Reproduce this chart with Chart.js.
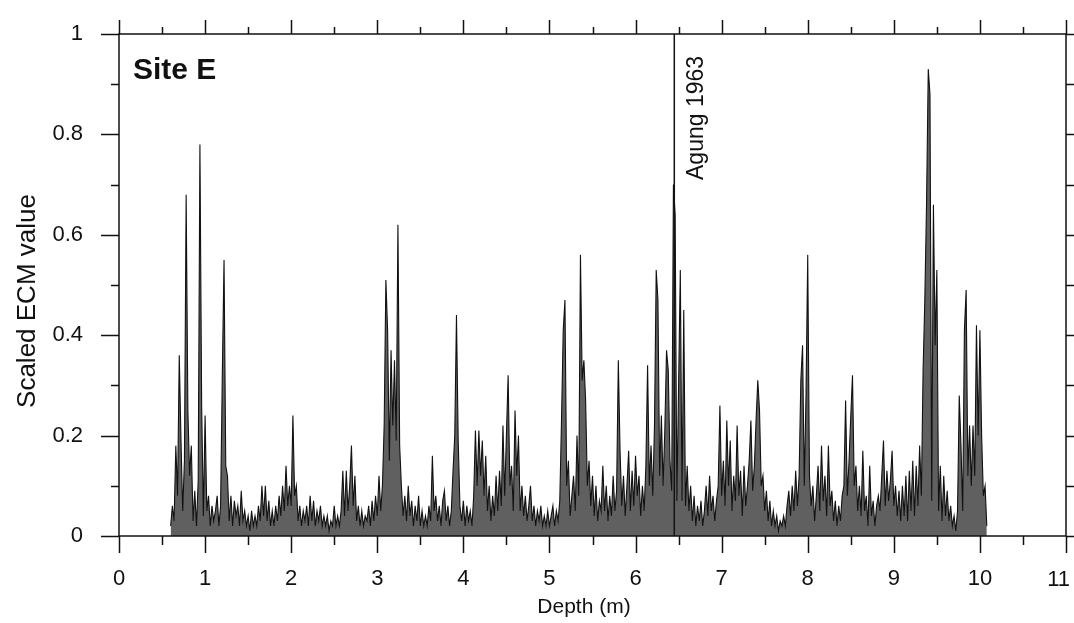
<!DOCTYPE html>
<html>
<head>
<meta charset="utf-8">
<script src="https://cdn.jsdelivr.net/npm/chart.js@4.4.1/dist/chart.umd.min.js"></script>
<style>
  html, body { margin: 0; padding: 0; background: #fff; }
  #wrap { width: 1074px; height: 623px; }
</style>
</head>
<body>
<div id="wrap"><canvas id="ecmChart" width="1074" height="623"></canvas></div>
<script>
// depth of each ECM sample (m)
let depth = [
  0.60,0.62,0.64,0.66,0.68,0.70,0.72,0.74,0.76,0.78,
  0.80,0.82,0.84,0.86,0.88,0.90,0.92,0.94,0.96,0.98,
  1.00,1.02,1.04,1.06,1.08,1.10,1.12,1.14,1.16,1.18,
  1.20,1.22,1.24,1.26,1.28,1.30,1.32,1.34,1.36,1.38,
  1.40,1.42,1.44,1.46,1.48,1.50,1.52,1.54,1.56,1.58,
  1.60,1.62,1.64,1.66,1.68,1.70,1.72,1.74,1.76,1.78,
  1.80,1.82,1.84,1.86,1.88,1.90,1.92,1.94,1.96,1.98,
  2.00,2.02,2.04,2.06,2.08,2.10,2.12,2.14,2.16,2.18,
  2.20,2.22,2.24,2.26,2.28,2.30,2.32,2.34,2.36,2.38,
  2.40,2.42,2.44,2.46,2.48,2.50,2.52,2.54,2.56,2.58,
  2.60,2.62,2.64,2.66,2.68,2.70,2.72,2.74,2.76,2.78,
  2.80,2.82,2.84,2.86,2.88,2.90,2.92,2.94,2.96,2.98,
  3.00,3.02,3.04,3.06,3.08,3.10,3.12,3.14,3.16,3.18,
  3.20,3.22,3.24,3.26,3.28,3.30,3.32,3.34,3.36,3.38,
  3.40,3.42,3.44,3.46,3.48,3.50,3.52,3.54,3.56,3.58,
  3.60,3.62,3.64,3.66,3.68,3.70,3.72,3.74,3.76,3.78,
  3.80,3.82,3.84,3.86,3.88,3.90,3.92,3.94,3.96,3.98,
  4.00,4.02,4.04,4.06,4.08,4.10,4.12,4.14,4.16,4.18,
  4.20,4.22,4.24,4.26,4.28,4.30,4.32,4.34,4.36,4.38,
  4.40,4.42,4.44,4.46,4.48,4.50,4.52,4.54,4.56,4.58,
  4.60,4.62,4.64,4.66,4.68,4.70,4.72,4.74,4.76,4.78,
  4.80,4.82,4.84,4.86,4.88,4.90,4.92,4.94,4.96,4.98,
  5.00,5.02,5.04,5.06,5.08,5.10,5.12,5.14,5.16,5.18,
  5.20,5.22,5.24,5.26,5.28,5.30,5.32,5.34,5.36,5.38,
  5.40,5.42,5.44,5.46,5.48,5.50,5.52,5.54,5.56,5.58,
  5.60,5.62,5.64,5.66,5.68,5.70,5.72,5.74,5.76,5.78,
  5.80,5.82,5.84,5.86,5.88,5.90,5.92,5.94,5.96,5.98,
  6.00,6.02,6.04,6.06,6.08,6.10,6.12,6.14,6.16,6.18,
  6.20,6.22,6.24,6.26,6.28,6.30,6.32,6.34,6.36,6.38,
  6.40,6.42,6.44,6.46,6.48,6.50,6.52,6.54,6.56,6.58,
  6.60,6.62,6.64,6.66,6.68,6.70,6.72,6.74,6.76,6.78,
  6.80,6.82,6.84,6.86,6.88,6.90,6.92,6.94,6.96,6.98,
  7.00,7.02,7.04,7.06,7.08,7.10,7.12,7.14,7.16,7.18,
  7.20,7.22,7.24,7.26,7.28,7.30,7.32,7.34,7.36,7.38,
  7.40,7.42,7.44,7.46,7.48,7.50,7.52,7.54,7.56,7.58,
  7.60,7.62,7.64,7.66,7.68,7.70,7.72,7.74,7.76,7.78,
  7.80,7.82,7.84,7.86,7.88,7.90,7.92,7.94,7.96,7.98,
  8.00,8.02,8.04,8.06,8.08,8.10,8.12,8.14,8.16,8.18,
  8.20,8.22,8.24,8.26,8.28,8.30,8.32,8.34,8.36,8.38,
  8.40,8.42,8.44,8.46,8.48,8.50,8.52,8.54,8.56,8.58,
  8.60,8.62,8.64,8.66,8.68,8.70,8.72,8.74,8.76,8.78,
  8.80,8.82,8.84,8.86,8.88,8.90,8.92,8.94,8.96,8.98,
  9.00,9.02,9.04,9.06,9.08,9.10,9.12,9.14,9.16,9.18,
  9.20,9.22,9.24,9.26,9.28,9.30,9.32,9.34,9.36,9.38,
  9.40,9.42,9.44,9.46,9.48,9.50,9.52,9.54,9.56,9.58,
  9.60,9.62,9.64,9.66,9.68,9.70,9.72,9.74,9.76,9.78,
  9.80,9.82,9.84,9.86,9.88,9.90,9.92,9.94,9.96,9.98,
  10.00,10.02,10.04,10.06,10.08
]

// scaled ECM value
let ecm = [
  0.02,0.06,0.03,0.18,0.08,0.36,0.19,0.05,0.15,0.68,
  0.25,0.12,0.18,0.03,0.09,0.02,0.11,0.78,0.26,0.04,
  0.24,0.05,0.08,0.02,0.06,0.03,0.05,0.08,0.02,0.06,
  0.32,0.55,0.14,0.12,0.03,0.08,0.02,0.07,0.04,0.06,
  0.02,0.09,0.03,0.05,0.02,0.04,0.01,0.05,0.02,0.04,
  0.02,0.06,0.03,0.10,0.04,0.10,0.03,0.07,0.02,0.05,
  0.02,0.06,0.03,0.08,0.04,0.10,0.05,0.14,0.06,0.10,
  0.06,0.24,0.08,0.10,0.03,0.06,0.02,0.05,0.03,0.06,
  0.02,0.08,0.03,0.07,0.02,0.05,0.03,0.06,0.02,0.04,
  0.02,0.04,0.01,0.03,0.02,0.06,0.02,0.04,0.02,0.05,
  0.13,0.04,0.13,0.05,0.10,0.18,0.06,0.12,0.03,0.06,
  0.02,0.05,0.02,0.04,0.03,0.06,0.02,0.07,0.03,0.08,
  0.04,0.12,0.05,0.10,0.22,0.51,0.41,0.15,0.37,0.22,
  0.35,0.19,0.62,0.18,0.10,0.04,0.08,0.03,0.10,0.04,
  0.07,0.02,0.06,0.03,0.08,0.02,0.05,0.02,0.04,0.02,
  0.06,0.03,0.16,0.05,0.08,0.03,0.06,0.02,0.07,0.09,
  0.03,0.06,0.02,0.05,0.13,0.20,0.44,0.19,0.06,0.03,
  0.07,0.02,0.06,0.03,0.05,0.02,0.08,0.21,0.10,0.21,
  0.12,0.19,0.08,0.16,0.05,0.10,0.03,0.08,0.04,0.12,
  0.05,0.13,0.06,0.22,0.08,0.20,0.32,0.10,0.14,0.05,
  0.25,0.12,0.20,0.05,0.10,0.04,0.08,0.03,0.06,0.10,
  0.03,0.06,0.02,0.05,0.03,0.06,0.02,0.04,0.02,0.05,
  0.02,0.04,0.06,0.02,0.05,0.03,0.07,0.23,0.41,0.47,
  0.10,0.15,0.04,0.08,0.12,0.05,0.20,0.08,0.56,0.31,
  0.35,0.27,0.10,0.15,0.06,0.12,0.04,0.10,0.03,0.07,
  0.05,0.14,0.05,0.10,0.03,0.08,0.04,0.12,0.05,0.09,
  0.35,0.17,0.06,0.12,0.04,0.10,0.17,0.05,0.13,0.06,
  0.16,0.08,0.12,0.04,0.10,0.05,0.14,0.34,0.10,0.18,
  0.08,0.22,0.53,0.47,0.12,0.24,0.10,0.21,0.37,0.33,
  0.15,0.09,0.70,0.64,0.07,0.30,0.53,0.07,0.45,0.06,
  0.14,0.05,0.10,0.03,0.08,0.02,0.06,0.03,0.07,0.02,
  0.05,0.10,0.04,0.12,0.05,0.08,0.03,0.07,0.10,0.26,
  0.08,0.15,0.06,0.23,0.10,0.19,0.05,0.12,0.07,0.22,
  0.08,0.13,0.04,0.14,0.06,0.10,0.15,0.23,0.09,0.14,
  0.23,0.31,0.25,0.10,0.12,0.05,0.09,0.03,0.07,0.02,
  0.05,0.02,0.04,0.01,0.03,0.02,0.04,0.02,0.06,0.09,
  0.04,0.10,0.05,0.13,0.06,0.12,0.31,0.38,0.10,0.28,
  0.56,0.12,0.06,0.10,0.03,0.08,0.14,0.05,0.18,0.07,
  0.12,0.04,0.18,0.06,0.09,0.03,0.07,0.02,0.06,0.03,
  0.08,0.10,0.27,0.08,0.15,0.24,0.32,0.10,0.14,0.05,
  0.10,0.04,0.17,0.05,0.08,0.02,0.14,0.04,0.07,0.02,
  0.06,0.08,0.05,0.12,0.19,0.06,0.13,0.07,0.11,0.17,
  0.06,0.10,0.04,0.09,0.03,0.10,0.04,0.12,0.03,0.13,
  0.05,0.15,0.04,0.14,0.06,0.18,0.08,0.33,0.47,0.66,
  0.93,0.88,0.07,0.66,0.38,0.53,0.05,0.14,0.03,0.12,
  0.04,0.09,0.03,0.06,0.02,0.04,0.01,0.05,0.28,0.18,
  0.05,0.41,0.49,0.12,0.22,0.10,0.22,0.12,0.42,0.20,
  0.41,0.20,0.08,0.10,0.02
]

let agungDepth = 6.45
let agungLabel = "Agung 1963"
let siteLabel = "Site E"
let xTitle = "Depth (m)"
let yTitle = "Scaled ECM value"

let fontFam = "'Liberation Sans', Arial, Helvetica, sans-serif"
let ink = '#111'

let points = depth.map((d, i) => ({ x: d, y: ecm[i] }))

// no extra room for label overflow: the plot box must sit where the figure has it
function fixBox(s, w, h) {
  if (w !== null) s.width = w
  if (h !== null) s.height = h
  s.paddingLeft = 0
  s.paddingRight = 0
  s.paddingTop = 0
  s.paddingBottom = 0
}

// frame, outward ticks and the text bits on the figure
let framePlugin = {
  id: 'frame',
  afterDraw(chart) {
    let ctx = chart.ctx
    let a = chart.chartArea
    let x = chart.scales.x
    let y = chart.scales.y
    ctx.save()
    ctx.strokeStyle = ink
    ctx.lineWidth = 1.5
    ctx.strokeRect(a.left, a.top, a.right - a.left, a.bottom - a.top)

    ctx.beginPath()
    for (let i = 0; i <= 22; i++) {
      let px = Math.round(x.getPixelForValue(i / 2)) + 0.5
      let major = i % 2 === 0
      ctx.moveTo(px, a.bottom); ctx.lineTo(px, a.bottom + (major ? 17 : 9))
      ctx.moveTo(px, a.top); ctx.lineTo(px, a.top - (major ? 14 : 7))
    }
    for (let i = 0; i <= 10; i++) {
      let py = Math.round(y.getPixelForValue(i / 10)) + 0.5
      let major = i % 2 === 0
      ctx.moveTo(a.left, py); ctx.lineTo(a.left - (major ? 18 : 8), py)
      ctx.moveTo(a.right, py); ctx.lineTo(a.right + 8, py)
    }
    ctx.stroke()

    ctx.fillStyle = ink
    ctx.font = "bold 30px " + fontFam
    ctx.textAlign = 'left'
    ctx.textBaseline = 'alphabetic'
    ctx.fillText(siteLabel, 133, 79)

    // last depth label sits against the page edge in the figure
    ctx.font = "22px " + fontFam
    ctx.textAlign = 'right'
    ctx.fillText(String(x.max), 1070, 586)

    // Agung label, reading upward next to the marker line
    let ax = x.getPixelForValue(agungDepth)
    ctx.save()
    ctx.translate(ax + 29, 180)
    ctx.rotate(-Math.PI / 2)
    ctx.textAlign = 'left'
    ctx.font = "23px " + fontFam
    ctx.fillText(agungLabel, 0, 0)
    ctx.restore()

    ctx.font = "21px " + fontFam
    ctx.textAlign = 'center'
    ctx.fillText(xTitle, 584, 613)

    ctx.save()
    ctx.translate(35, 301)
    ctx.rotate(-Math.PI / 2)
    ctx.font = "26px " + fontFam
    ctx.fillText(yTitle, 0, 0)
    ctx.restore()

    ctx.restore()
  }
}

let tickFont = { family: fontFam, size: 22 }

let myChart = new Chart(document.getElementById('ecmChart'), {
  type: 'line',
  data: {
    datasets: [
      {
        data: points,
        borderColor: ink,
        borderWidth: 1.1,
        backgroundColor: 'rgba(20,20,20,0.68)',
        fill: 'origin',
        pointRadius: 0,
        tension: 0
      },
      {
        data: [{ x: agungDepth, y: 0 }, { x: agungDepth, y: 1 }],
        borderColor: ink,
        borderWidth: 1.5,
        pointRadius: 0
      }
    ]
  },
  options: {
    responsive: false,
    animation: false,
    devicePixelRatio: 1,
    layout: { padding: 0 },
    plugins: { legend: { display: false }, tooltip: { enabled: false } },
    scales: {
      x: {
        type: 'linear', position: 'bottom', min: 0, max: 11,
        ticks: {
          stepSize: 1, padding: 30, font: tickFont, color: ink, maxRotation: 0, autoSkip: false,
          callback: v => (v === 11 ? '' : String(v))
        },
        grid: { display: false, drawTicks: false },
        border: { display: false },
        afterFit: s => fixBox(s, null, 87)
      },
      x2: {
        type: 'linear', position: 'top', min: 0, max: 11,
        ticks: { display: false },
        grid: { display: false, drawTicks: false },
        border: { display: false },
        afterFit: s => fixBox(s, null, 34)
      },
      y: {
        min: 0, max: 1,
        ticks: {
          stepSize: 0.2, padding: 36, font: tickFont, color: ink,
          callback: v => String(Math.round(v * 10) / 10)
        },
        grid: { display: false, drawTicks: false },
        border: { display: false },
        afterFit: s => fixBox(s, 119, null)
      },
      y2: {
        position: 'right', min: 0, max: 1,
        ticks: { display: false },
        grid: { display: false, drawTicks: false },
        border: { display: false },
        afterFit: s => fixBox(s, 8, null)
      }
    }
  },
  plugins: [framePlugin]
})
</script>
</body>
</html>
